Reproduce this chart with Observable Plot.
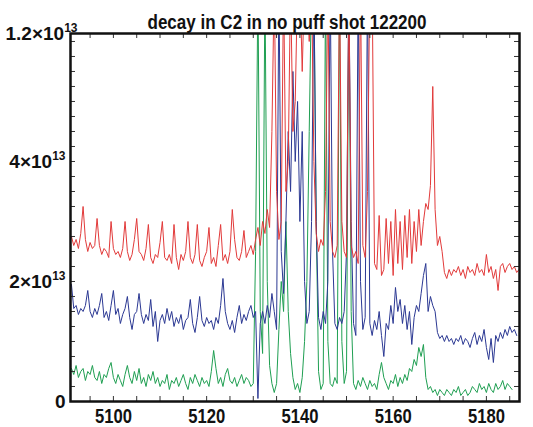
<!DOCTYPE html>
<html>
<head>
<meta charset="utf-8">
<script src="https://cdn.jsdelivr.net/npm/d3@7"></script>
<script src="https://cdn.jsdelivr.net/npm/@observablehq/plot@0.6"></script>
<style>
  html, body { margin: 0; padding: 0; background: #fff; }
  svg text { font-family: "Liberation Sans", Arial, Helvetica, sans-serif; font-weight: bold; }
</style>
</head>
<body>
<div id="chart"></div>
<script>
const title = "decay in C2 in no puff shot 122200";

// wavelength sampling grid (0.5 step from 5091 to 5187)
const wavelength = d3.range(5091, 5187.001, 0.5);

// values in units of 10^13, one row = 5 units (10 samples)
const red = [
  2.75,2.6,2.7,2.55,2.8,3.25,2.7,2.5,2.65,2.55,   // 5091
  2.6,3.05,2.6,2.45,2.55,2.5,2.4,3.0,2.55,2.45,   // 5096
  2.5,2.4,2.55,3.0,2.5,2.35,2.45,2.7,3.05,2.5,    // 5101
  2.45,2.35,2.55,2.95,2.4,2.3,2.45,2.4,2.65,3.0,  // 5106
  2.4,2.35,2.45,2.3,2.95,2.4,2.2,2.45,2.35,2.5,   // 5111
  3.0,2.4,2.3,2.45,2.95,2.35,2.25,2.4,2.5,2.9,    // 5116
  2.3,2.4,2.25,2.6,2.95,2.35,2.45,2.3,2.5,3.2,    // 5121
  2.7,2.4,2.35,2.5,2.85,2.4,2.5,2.6,2.45,2.7,     // 5126
  2.9,2.6,3.0,2.8,3.2,2.9,4.5,7,3.5,2.7,          // 5131
  3.0,7,3.5,4.0,7,4.5,5.0,7,7,5.5,                // 5136
  7,7,6.0,7,4.0,2.8,2.5,2.7,2.6,3.5,              // 5141
  7,3.0,2.5,2.4,2.6,7,3.0,2.5,2.4,7,              // 5146
  2.6,2.4,2.5,2.3,7,2.6,2.4,3.5,7,7,              // 5151
  2.3,2.2,3.1,2.1,2.2,3.05,2.3,3.0,2.1,3.2,       // 5156
  2.3,3.0,2.2,3.1,2.4,3.2,2.3,3.0,2.5,3.2,        // 5161
  2.6,3.0,3.3,3.2,3.6,5.25,3.2,2.6,2.75,2.5,      // 5166
  2.15,2.05,2.2,2.1,2.2,2.15,2.25,2.1,2.2,2.05,   // 5171
  2.25,2.15,2.2,2.1,2.3,2.15,2.2,2.1,2.45,2.15,   // 5176
  2.25,2.05,2.2,1.85,2.25,2.3,2.15,2.25,2.3,2.2,  // 5181
  2.25,2.15,2.2                                   // 5186
];
const blue = [
  1.95,1.55,1.6,1.45,1.55,1.5,1.6,1.85,1.5,1.4,   // 5091
  1.55,1.45,1.6,1.8,1.4,1.5,1.35,1.6,1.85,1.45,   // 5096
  1.55,1.3,1.45,1.55,1.75,1.4,1.2,1.45,1.5,1.8,   // 5101
  1.45,1.3,1.45,1.35,1.7,1.25,1.5,1.0,1.35,1.45,  // 5106
  1.3,1.55,1.35,1.5,1.25,1.4,1.3,1.45,1.2,1.35,   // 5111
  1.4,1.7,1.3,1.15,1.4,1.75,1.35,1.25,1.4,1.3,    // 5116
  1.35,1.2,1.4,1.3,1.6,2.05,1.5,1.3,1.2,1.35,     // 5121
  1.15,1.4,1.6,1.3,1.45,1.35,1.5,1.6,1.4,1.5,     // 5126
  0.05,1.3,1.5,1.3,1.6,1.4,1.8,1.5,1.2,7,         // 5131
  2.5,1.8,3.0,4.5,3.5,5.5,4.0,5.0,3.0,4.5,        // 5136
  2.0,1.3,1.5,3.0,7,3.0,1.4,1.2,1.5,1.3,          // 5141
  2.0,7,2.5,1.3,1.2,1.4,1.3,1.5,2.5,7,            // 5146
  3.0,1.3,1.1,7,2.0,1.2,1.4,7,1.3,1.1,            // 5151
  1.35,1.2,1.5,1.1,0.75,1.3,1.2,1.6,1.3,1.9,      // 5156
  1.5,1.7,1.3,1.6,1.2,1.5,0.95,1.4,1.6,1.5,       // 5161
  1.8,2.1,2.3,1.5,1.75,1.6,1.5,1.15,1.05,1.1,     // 5166
  1.0,1.1,1.0,1.05,0.95,1.05,1.0,1.1,0.95,1.05,   // 5171
  1.0,0.9,1.05,1.15,0.95,1.1,1.0,1.2,0.9,0.7,     // 5176
  1.05,0.65,1.1,1.0,1.15,1.05,1.2,1.1,1.25,1.15,  // 5181
  1.2,1.1,null                                    // 5186
];
const green = [
  0.55,0.45,0.6,0.4,0.5,0.55,0.35,0.5,0.45,0.6,   // 5091
  0.4,0.35,0.5,0.3,0.45,0.4,0.55,0.65,0.4,0.3,    // 5096
  0.45,0.35,0.25,0.45,0.6,0.4,0.3,0.5,0.35,0.55,  // 5101
  0.3,0.4,0.25,0.45,0.35,0.5,0.3,0.4,0.25,0.35,   // 5106
  0.3,0.45,0.2,0.35,0.3,0.4,0.25,0.35,0.45,0.3,   // 5111
  0.2,0.4,0.3,0.45,0.35,0.25,0.4,0.3,0.35,0.25,   // 5116
  0.5,0.85,0.55,0.3,0.4,0.25,0.45,0.55,0.35,0.3,  // 5121
  0.4,0.25,0.35,0.45,0.3,0.4,0.35,0.25,0.3,2.5,   // 5126
  7,1.5,0.8,7,2.0,0.6,0.3,0.15,0.3,1.2,           // 5131
  2.0,1.5,3.0,1.5,0.8,0.4,0.2,0.3,0.15,0.4,       // 5136
  1.0,2.0,4.5,7,7,3.0,0.5,0.2,0.3,7,              // 5141
  1.0,0.3,0.25,0.4,0.3,7,1.0,0.3,0.5,7,           // 5146
  1.5,0.3,0.2,0.35,0.25,0.4,0.3,0.2,0.35,0.25,    // 5151
  0.3,0.2,0.45,0.65,0.4,0.3,0.2,0.35,0.3,0.45,    // 5156
  0.25,0.4,0.3,0.45,0.35,0.55,0.5,0.7,0.6,0.9,    // 5161
  0.75,0.95,0.4,0.2,0.25,0.15,0.2,0.1,0.2,0.15,   // 5166
  0.1,0.2,0.15,0.1,0.2,0.15,0.25,0.1,0.15,0.2,    // 5171
  0.1,0.15,0.25,0.2,0.15,0.3,0.2,0.25,0.15,0.3,   // 5176
  0.2,0.15,0.3,0.2,0.25,0.35,0.2,0.3,0.25,0.2,    // 5181
  null,null,null                                  // 5186
];

const xDomain = [5090.8, 5187.1];
const yTop = 6.133;
const yTicks = [0, 2, 4, yTop];
const yTickLabels = ["0", "2×10^13", "4×10^13", "1.2×10^13"];
const xTicks = [5100, 5120, 5140, 5160, 5180];
const xMinor = d3.range(5095, 5186, 5);
const yMinor = d3.range(0.25, 6.01, 0.25);

const colors = {red: "#e23a3a", blue: "#2b3893", green: "#1f9f52"};

function series(vals, color) {
  return Plot.line(d3.range(vals.length), {
    x: i => wavelength[i], y: i => vals[i], stroke: color, strokeWidth: 1, clip: true
  });
}

const W = 533, H = 427;
const mL = 70, mR = 14, mT = 33, mB = 26;
const innerW = W - mL - mR, innerH = H - mT - mB;

const chart = Plot.plot({
  width: W, height: H,
  marginLeft: mL, marginRight: mR, marginTop: mT, marginBottom: mB,
  x: {domain: xDomain},
  y: {domain: [0, yTop]},
  style: {background: "#fff", overflow: "visible"},
  marks: [
    series(green, colors.green),
    series(blue, colors.blue),
    series(red, colors.red),
    // inward ticks on all four sides
    Plot.tickX(xMinor, {x: d => d, insetTop: innerH - 5, stroke: "#333", strokeWidth: 1}),
    Plot.tickX(xMinor, {x: d => d, insetBottom: innerH - 5, stroke: "#333", strokeWidth: 1}),
    Plot.tickY(yMinor, {y: d => d, insetRight: innerW - 5, stroke: "#333", strokeWidth: 1}),
    Plot.tickY(yMinor, {y: d => d, insetLeft: innerW - 5, stroke: "#333", strokeWidth: 1}),
    Plot.axisX({ticks: xTicks, tickSize: 0, tickPadding: 7, tickFormat: d => String(d), fontSize: 21, fill: "#111"}),
    Plot.axisY({ticks: yTicks, tickSize: 0, tickPadding: 5, tickFormat: (d, i) => yTickLabels[i], fontSize: 19, fill: "#111"}),
    Plot.frame({stroke: "#111", strokeWidth: 2.5}),
    Plot.text([title], {frameAnchor: "top", lineAnchor: "bottom", dy: -5, dx: -8, fontSize: 20, fill: "#111", text: d => d})
  ]
});

const svg = d3.select(chart);
// fit label widths to the reference's condensed lettering
svg.selectAll('g[aria-label="x-axis tick label"] text')
  .attr("textLength", 37).attr("lengthAdjust", "spacingAndGlyphs");
svg.selectAll('g[aria-label="text"] text')
  .attr("textLength", 279).attr("lengthAdjust", "spacingAndGlyphs");

// superscript exponents in y tick labels
svg.selectAll('g[aria-label="y-axis tick label"] text').each(function() {
  const t = d3.select(this);
  const s = t.text();
  const k = s.indexOf("^");
  if (k < 0) return;
  const main = s.slice(0, k), sup = s.slice(k + 1);
  t.text(null);
  t.append("tspan").text(main);
  t.append("tspan").attr("font-size", 12).attr("dy", -8).text(sup);
  if (main.startsWith("1.2")) t.attr("dx", 12);
});

document.getElementById("chart").appendChild(chart);
</script>
</body>
</html>
